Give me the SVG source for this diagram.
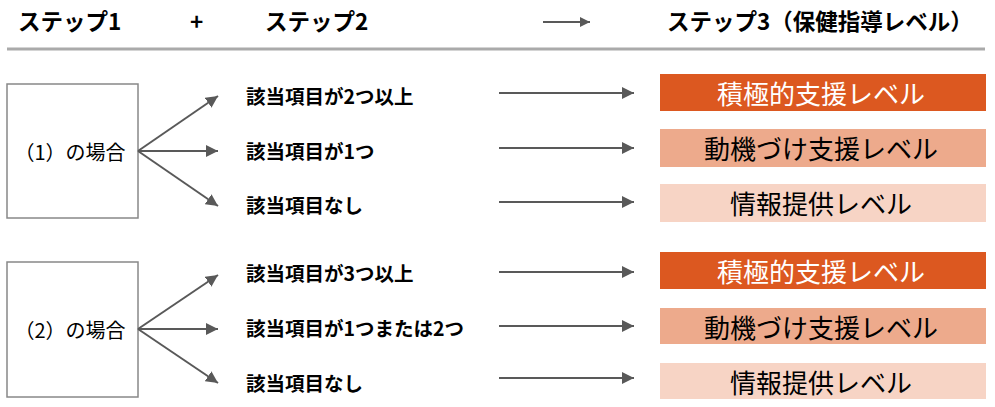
<svg xmlns="http://www.w3.org/2000/svg" width="995" height="407" viewBox="0 0 995 407">
<defs>
<marker id="ah" viewBox="0 0 10 10" refX="10" refY="5" markerWidth="10" markerHeight="10" markerUnits="userSpaceOnUse" orient="auto">
<path d="M0,0 L10,5 L0,10 z" fill="#595959"/>
</marker>
<marker id="ah2" viewBox="0 0 10 10" refX="10" refY="5" markerWidth="12" markerHeight="12" markerUnits="userSpaceOnUse" orient="auto">
<path d="M0,0 L10,5 L0,10 z" fill="#595959"/>
</marker>
</defs>
<style>
text{font-family:"Noto Sans CJK JP","Noto Sans",sans-serif;}
.hd{font-size:22.5px;font-weight:bold;fill:#000;}
.lb{font-size:19.5px;font-weight:bold;fill:#000;dominant-baseline:central;}
.cs{font-size:20px;fill:#000;text-anchor:middle;dominant-baseline:central;}
.lv{font-size:26px;text-anchor:middle;dominant-baseline:central;}
.box{fill:#fff;stroke:#888;stroke-width:1.5;}
.ln{stroke:#595959;stroke-width:2;fill:none;}
</style>
<rect width="995" height="407" fill="#fff"/>
<g id="header">
<text class="hd" x="18" y="30">ステップ1</text>
<text class="hd" x="190" y="30">+</text>
<text class="hd" x="265" y="30">ステップ2</text>
<line class="ln" x1="543" y1="22" x2="590" y2="22" marker-end="url(#ah)"/>
<text class="hd" x="667" y="30">ステップ3（保健指導レベル）</text>
<line x1="7" y1="49" x2="985" y2="49" stroke="#aaa" stroke-width="3"/>
</g>
<g id="case1">
<rect class="box" x="7" y="84" width="131" height="134"/>
<text class="cs" x="70" y="151">（1）の場合</text>
</g>
<g id="case2">
<rect class="box" x="7" y="262" width="131" height="135"/>
<text class="cs" x="70" y="329">（2）の場合</text>
</g>
<g id="labels">
<text class="lb" x="246" y="95">該当項目が2つ以上</text>
<text class="lb" x="246" y="150">該当項目が1つ</text>
<text class="lb" x="246" y="204">該当項目なし</text>
<text class="lb" x="246" y="272">該当項目が3つ以上</text>
<text class="lb" x="246" y="327">該当項目が1つまたは2つ</text>
<text class="lb" x="246" y="382">該当項目なし</text>
</g>
<g id="levels">
<rect x="660" y="74" width="326" height="37" fill="#DC5820"/>
<text class="lv" x="821" y="92" fill="#fff">積極的支援レベル</text>
<rect x="660" y="129" width="326" height="38" fill="#EDAA8C"/>
<text class="lv" x="821" y="147" fill="#000">動機づけ支援レベル</text>
<rect x="660" y="184" width="326" height="38" fill="#F7D4C5"/>
<text class="lv" x="821" y="202" fill="#000">情報提供レベル</text>
<rect x="660" y="252" width="326" height="37" fill="#DC5820"/>
<text class="lv" x="821" y="270" fill="#fff">積極的支援レベル</text>
<rect x="660" y="308" width="326" height="36" fill="#EDAA8C"/>
<text class="lv" x="821" y="326" fill="#000">動機づけ支援レベル</text>
<rect x="660" y="363" width="326" height="36" fill="#F7D4C5"/>
<text class="lv" x="821" y="381" fill="#000">情報提供レベル</text>
</g>
<g id="connectors">
<line class="ln" x1="138" y1="151" x2="218" y2="96" marker-end="url(#ah2)"/>
<line class="ln" x1="138" y1="151" x2="218" y2="151" marker-end="url(#ah2)"/>
<line class="ln" x1="138" y1="151" x2="218" y2="206" marker-end="url(#ah2)"/>
<line class="ln" x1="138" y1="329" x2="218" y2="275" marker-end="url(#ah2)"/>
<line class="ln" x1="138" y1="329" x2="218" y2="329" marker-end="url(#ah2)"/>
<line class="ln" x1="138" y1="329" x2="218" y2="383" marker-end="url(#ah2)"/>
<line class="ln" x1="499" y1="93" x2="634" y2="93" marker-end="url(#ah2)"/>
<line class="ln" x1="499" y1="148" x2="634" y2="148" marker-end="url(#ah2)"/>
<line class="ln" x1="499" y1="202" x2="634" y2="202" marker-end="url(#ah2)"/>
<line class="ln" x1="499" y1="272" x2="634" y2="272" marker-end="url(#ah2)"/>
<line class="ln" x1="499" y1="326" x2="634" y2="326" marker-end="url(#ah2)"/>
<line class="ln" x1="499" y1="378" x2="634" y2="378" marker-end="url(#ah2)"/>
</g>
</svg>
